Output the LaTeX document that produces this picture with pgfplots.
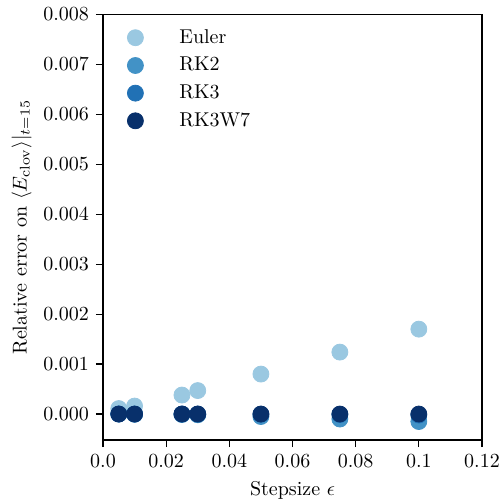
\documentclass[border=0pt]{standalone}
\usepackage{pgfplots}
\pgfplotsset{compat=1.18}
\definecolor{cEuler}{HTML}{9AC8E1}
\definecolor{cRKtwo}{HTML}{4292C6}
\definecolor{cRKthree}{HTML}{2171B5}
\definecolor{cRKW}{HTML}{08306B}
\begin{document}
\begin{tikzpicture}
\begin{axis}[
  scale only axis,
  width=189.5pt, height=212.75pt,
  xmin=0, xmax=0.12,
  ymin=-0.00052, ymax=0.008,
  scaled ticks=false,
  xtick={0,0.02,0.04,0.06,0.08,0.1,0.12},
  xticklabels={0.0,0.02,0.04,0.06,0.08,0.1,0.12},
  ytick={0,0.001,0.002,0.003,0.004,0.005,0.006,0.007,0.008},
  yticklabel style={/pgf/number format/.cd,fixed,fixed zerofill,precision=3},
  tick align=outside,
  xtick pos=bottom, ytick pos=left,
  major tick length=3.5pt,
  tick style={black, line width=0.6pt},
  axis line style={line width=0.6pt},
  xlabel={Stepsize $\epsilon$},
  ylabel={Relative error on $\langle E_{\mathrm{clov}}\rangle|_{t=15}$},
  ylabel style={yshift=-1pt},
  legend style={draw=none, fill=none, at={(0.0475,0.985)}, anchor=north west, row sep=1.5pt, font=\normalsize,
    /tikz/every odd column/.append style={column sep=16pt}},
  legend cell align=left,
  every axis plot/.append style={only marks, mark=*, mark size=4pt},
]
\addplot[color=cEuler, mark options={draw=cEuler, fill=cEuler}] coordinates {
(0.005,0.00011) (0.01,0.00016) (0.025,0.00038) (0.03,0.00047) (0.05,0.00080) (0.075,0.00124) (0.1,0.00170)};
\addlegendentry{Euler}
\addplot[color=cRKtwo, mark options={draw=cRKtwo, fill=cRKtwo}] coordinates {
(0.005,0.0) (0.01,-0.000005) (0.025,-0.00001) (0.03,-0.000015) (0.05,-0.00005) (0.075,-0.0001) (0.1,-0.00015)};
\addlegendentry{RK2}
\addplot[color=cRKthree, mark options={draw=cRKthree, fill=cRKthree}] coordinates {
(0.005,0.0) (0.01,0.0) (0.025,0.0) (0.03,0.0) (0.05,-0.000005) (0.075,-0.00001) (0.1,-0.00002)};
\addlegendentry{RK3}
\addplot[color=cRKW, mark options={draw=cRKW, fill=cRKW}] coordinates {
(0.005,0.0) (0.01,0.0) (0.025,0.0) (0.03,0.0) (0.05,0.0) (0.075,0.0) (0.1,0.0)};
\addlegendentry{RK3W7}
\end{axis}
\pgfresetboundingbox
\path ([shift={(-51.5pt,-30pt)}]current axis.south west) rectangle ([shift={(10.5pt,7.25pt)}]current axis.north east);
\end{tikzpicture}
\end{document}
